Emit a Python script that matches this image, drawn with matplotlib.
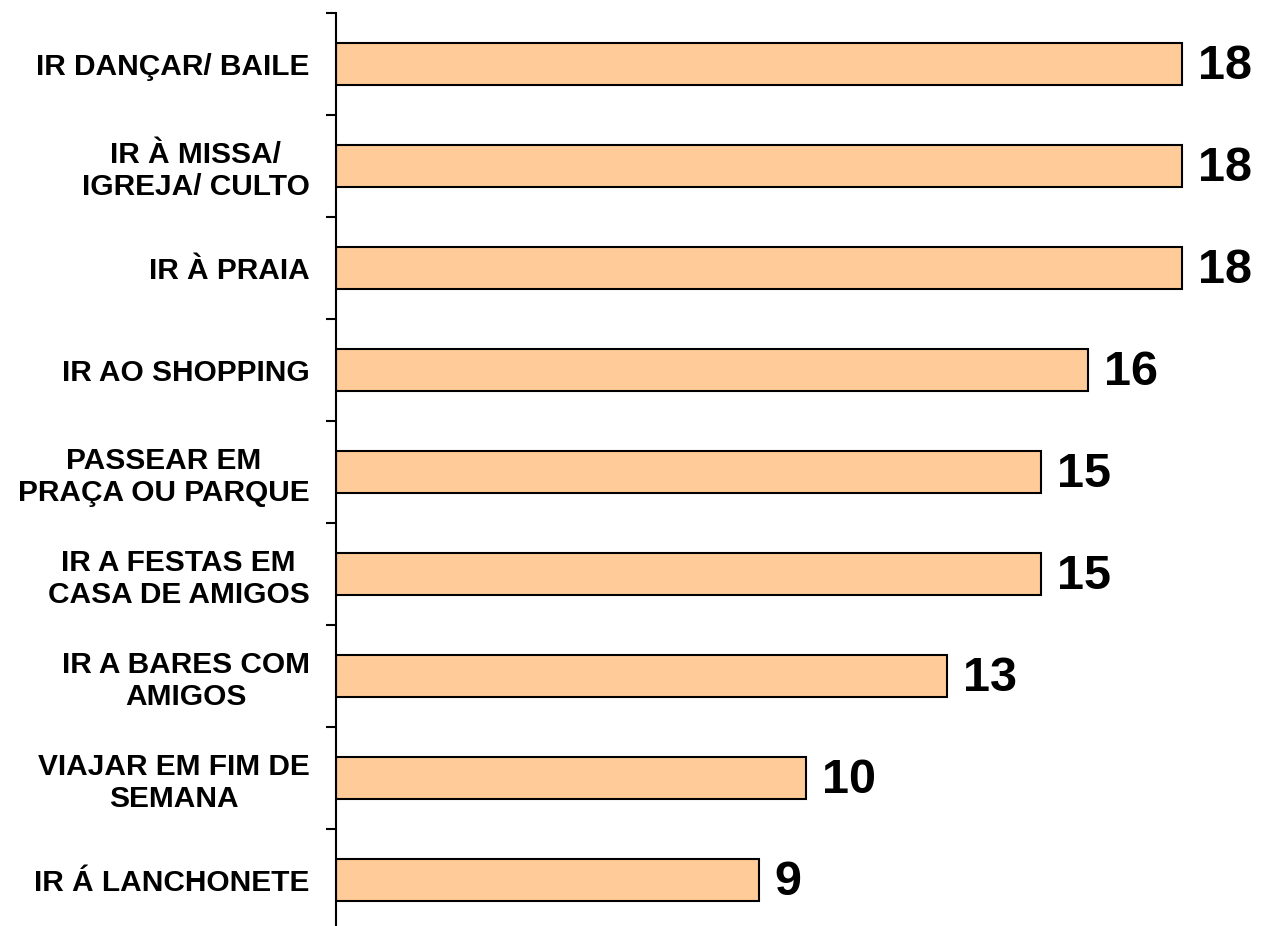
import matplotlib.pyplot as plt

categories = [
    "IR DANÇAR/ BAILE",
    "IR À MISSA/\nIGREJA/ CULTO",
    "IR À PRAIA",
    "IR AO SHOPPING",
    "PASSEAR EM\nPRAÇA OU PARQUE",
    "IR A FESTAS EM\nCASA DE AMIGOS",
    "IR A BARES COM\nAMIGOS",
    "VIAJAR EM FIM DE\nSEMANA",
    "IR Á LANCHONETE",
]
values = [18, 18, 18, 16, 15, 15, 13, 10, 9]


def main():
    plt.rcParams['font.family'] = ['Liberation Sans', 'DejaVu Sans']
    fig = plt.figure(figsize=(12.62, 9.26), dpi=100)
    ax = fig.add_axes([336 / 1262, -5 / 926, 870 / 1262, 918 / 926])

    pos = list(range(len(categories)))
    ax.barh(pos, values, height=0.42, color="#FFCC99", edgecolor="black", linewidth=1.5)

    for y, v in zip(pos, values):
        ax.annotate(str(v), (v, y), xytext=(11, -2), textcoords="offset points",
                    va="center", ha="left", fontsize=35, fontweight="bold")

    ax.set_xlim(0, 18.5)
    ax.set_ylim(8.5, -0.5)
    ax.set_yticks(pos)
    ax.set_yticklabels(categories, fontsize=21.5, fontweight="bold",
                       multialignment="center", linespacing=1.2)
    ax.set_yticks([p - 0.5 for p in pos] + [8.5], minor=True)
    ax.tick_params(axis="y", which="major", length=0, pad=19)
    ax.tick_params(axis="y", which="minor", length=7, width=1.5, direction="out")
    ax.set_xticks([])

    for s in ["top", "right", "bottom"]:
        ax.spines[s].set_visible(False)
    ax.spines["left"].set_linewidth(1.5)

    fig.savefig("out.png", dpi=100)


if __name__ == "__main__":
    main()
